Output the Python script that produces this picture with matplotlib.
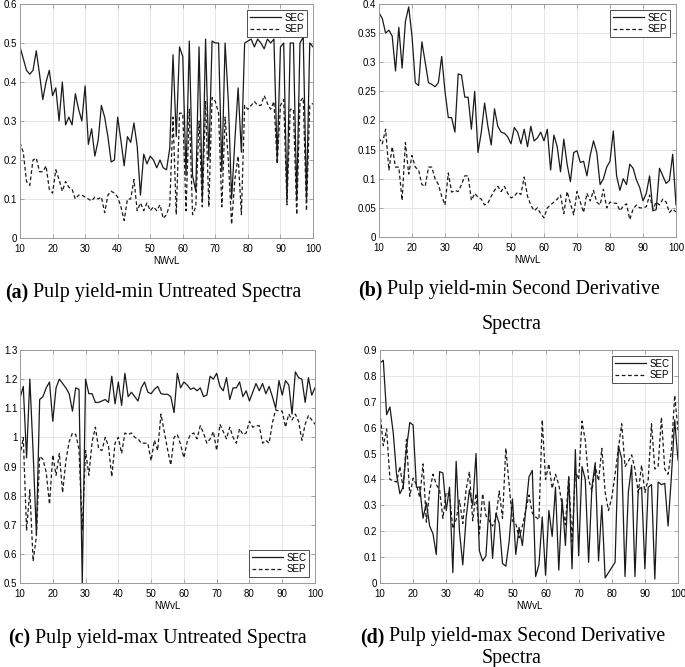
import matplotlib
matplotlib.use('Agg')
import matplotlib.pyplot as plt
from matplotlib.ticker import FormatStrFormatter, MultipleLocator

nwvl = list(range(10, 101))

# (a) pulp yield-min, untreated spectra
sec_a = [0.49, 0.46, 0.43, 0.42, 0.43, 0.48, 0.42, 0.355, 0.40, 0.43,
         0.365, 0.385, 0.30, 0.40, 0.29, 0.31, 0.29, 0.37, 0.33, 0.30,
         0.39, 0.24, 0.28, 0.21, 0.25, 0.34, 0.31, 0.26, 0.195, 0.20,
         0.31, 0.25, 0.185, 0.26, 0.245, 0.295, 0.235, 0.11, 0.215, 0.19,
         0.21, 0.20, 0.18, 0.20, 0.18, 0.175, 0.23, 0.47, 0.26, 0.49,
         0.465, 0.16, 0.505, 0.16, 0.12, 0.49, 0.10, 0.51, 0.20, 0.505,
         0.50, 0.50, 0.17, 0.50, 0.35, 0.10, 0.25, 0.385, 0.22, 0.50,
         0.505, 0.51, 0.49, 0.51, 0.50, 0.485, 0.51, 0.50, 0.51, 0.20,
         0.49, 0.50, 0.10, 0.50, 0.50, 0.10, 0.50, 0.515, 0.10, 0.50,
         0.49]
sep_a = [0.245, 0.22, 0.145, 0.135, 0.20, 0.205, 0.17, 0.17, 0.185, 0.125,
         0.115, 0.175, 0.15, 0.12, 0.145, 0.13, 0.125, 0.10, 0.11, 0.11,
         0.105, 0.10, 0.095, 0.105, 0.10, 0.105, 0.065, 0.11, 0.12, 0.115,
         0.105, 0.08, 0.045, 0.10, 0.10, 0.15, 0.07, 0.09, 0.07, 0.09,
         0.07, 0.08, 0.07, 0.085, 0.05, 0.06, 0.085, 0.31, 0.06, 0.32,
         0.32, 0.07, 0.33, 0.06, 0.08, 0.30, 0.08, 0.35, 0.08, 0.36,
         0.35, 0.32, 0.08, 0.31, 0.20, 0.035, 0.15, 0.21, 0.06, 0.34,
         0.33, 0.34, 0.35, 0.34, 0.34, 0.365, 0.345, 0.33, 0.35, 0.19,
         0.34, 0.355, 0.085, 0.33, 0.33, 0.06, 0.35, 0.36, 0.07, 0.34,
         0.345]

# (b) pulp yield-min, second derivative spectra
sec_b = [0.385, 0.375, 0.35, 0.355, 0.345, 0.285, 0.36, 0.29, 0.37, 0.395,
         0.345, 0.265, 0.26, 0.335, 0.30, 0.265, 0.262, 0.258, 0.265, 0.31,
         0.25, 0.205, 0.205, 0.18, 0.28, 0.278, 0.24, 0.24, 0.185, 0.25,
         0.145, 0.18, 0.23, 0.19, 0.158, 0.22, 0.19, 0.18, 0.178, 0.172,
         0.16, 0.188, 0.18, 0.16, 0.185, 0.155, 0.19, 0.165, 0.17, 0.18,
         0.165, 0.185, 0.115, 0.175, 0.155, 0.112, 0.168, 0.125, 0.095, 0.145,
         0.148, 0.128, 0.13, 0.105, 0.14, 0.165, 0.145, 0.09, 0.10, 0.12,
         0.13, 0.182, 0.105, 0.08, 0.10, 0.09, 0.125, 0.118, 0.098, 0.085,
         0.062, 0.075, 0.105, 0.045, 0.047, 0.118, 0.105, 0.092, 0.097, 0.142,
         0.055]
sep_b = [0.17, 0.16, 0.185, 0.115, 0.155, 0.12, 0.12, 0.063, 0.162, 0.108,
         0.14, 0.12, 0.115, 0.09, 0.087, 0.12, 0.12, 0.10, 0.09, 0.07,
         0.055, 0.11, 0.077, 0.08, 0.078, 0.09, 0.105, 0.105, 0.063, 0.075,
         0.068, 0.065, 0.055, 0.058, 0.07, 0.08, 0.087, 0.078, 0.087, 0.075,
         0.067, 0.07, 0.077, 0.073, 0.103, 0.07, 0.055, 0.045, 0.05, 0.04,
         0.033, 0.05, 0.055, 0.06, 0.065, 0.072, 0.04, 0.078, 0.058, 0.038,
         0.078, 0.06, 0.042, 0.075, 0.062, 0.08, 0.06, 0.055, 0.082, 0.05,
         0.06, 0.058, 0.058, 0.045, 0.053, 0.057, 0.03, 0.048, 0.055, 0.05,
         0.05, 0.052, 0.072, 0.048, 0.06, 0.055, 0.065, 0.06, 0.042, 0.048,
         0.043]

# (c) pulp yield-max, untreated spectra
sec_c = [1.135, 1.175, 0.93, 1.20, 0.95, 0.665, 1.13, 1.14, 1.17, 1.19,
         1.055, 1.17, 1.20, 1.185, 1.17, 1.15, 1.09, 1.17, 1.165, 0.50,
         1.20, 1.15, 1.15, 1.12, 1.12, 1.125, 1.13, 1.12, 1.21, 1.115,
         1.19, 1.11, 1.22, 1.14, 1.155, 1.14, 1.125, 1.17, 1.19, 1.155,
         1.15, 1.165, 1.175, 1.15, 1.148, 1.148, 1.14, 1.085, 1.22, 1.17,
         1.19, 1.18, 1.165, 1.17, 1.16, 1.17, 1.14, 1.145, 1.21, 1.20,
         1.22, 1.175, 1.16, 1.205, 1.13, 1.17, 1.17, 1.19, 1.14, 1.16,
         1.125, 1.155, 1.185, 1.16, 1.185, 1.15, 1.175, 1.14, 1.10, 1.195,
         1.145, 1.195, 1.18, 1.08, 1.225, 1.205, 1.20, 1.12, 1.205, 1.145,
         1.17]
sep_c = [0.935, 1.00, 0.68, 0.82, 0.575, 0.66, 0.935, 0.925, 0.88, 0.77,
         0.94, 0.87, 0.945, 0.81, 0.92, 0.985, 1.015, 1.01, 0.96, 0.68,
         0.955, 0.87, 0.985, 1.035, 0.96, 0.955, 1.00, 0.97, 0.865, 0.98,
         1.00, 0.945, 1.015, 1.01, 1.015, 1.00, 0.995, 0.98, 0.98, 0.98,
         0.92, 0.99, 0.955, 1.08, 1.02, 0.96, 0.905, 1.00, 1.01, 0.975,
         0.93, 0.985, 1.01, 1.015, 0.995, 1.04, 1.015, 0.98, 0.995, 1.02,
         0.955, 1.045, 1.02, 0.995, 1.035, 1.00, 0.98, 1.03, 1.01, 1.015,
         1.055, 1.035, 1.04, 1.04, 0.98, 0.99, 0.98, 1.05, 1.095, 1.09,
         1.09, 1.035, 1.08, 1.06, 1.08, 1.055, 0.99, 1.045, 1.075, 1.06,
         1.045]

# (d) pulp yield-max, second derivative spectra
sec_d = [0.85, 0.86, 0.65, 0.68, 0.58, 0.42, 0.345, 0.37, 0.52, 0.62,
         0.61, 0.37, 0.37, 0.25, 0.31, 0.22, 0.19, 0.11, 0.43, 0.425,
         0.28, 0.37, 0.04, 0.47, 0.20, 0.07, 0.25, 0.36, 0.30, 0.50,
         0.125, 0.085, 0.105, 0.315, 0.095, 0.27, 0.23, 0.075, 0.065, 0.16,
         0.325, 0.11, 0.215, 0.145, 0.28, 0.41, 0.435, 0.025, 0.07, 0.255,
         0.03, 0.28, 0.18, 0.37, 0.05, 0.325, 0.145, 0.41, 0.055, 0.515,
         0.105, 0.45, 0.40, 0.08, 0.37, 0.465, 0.085, 0.30, 0.02, 0.04,
         0.06, 0.08, 0.53, 0.48, 0.025, 0.35, 0.455, 0.025, 0.36, 0.37,
         0.055, 0.37, 0.38, 0.015, 0.39, 0.38, 0.385, 0.22, 0.41, 0.63,
         0.475]
sep_d = [0.66, 0.53, 0.595, 0.40, 0.395, 0.39, 0.45, 0.365, 0.555, 0.335,
         0.405, 0.38, 0.33, 0.46, 0.235, 0.355, 0.42, 0.38, 0.36, 0.25,
         0.35, 0.34, 0.21, 0.245, 0.32, 0.23, 0.36, 0.43, 0.24, 0.345,
         0.19, 0.345, 0.26, 0.24, 0.22, 0.25, 0.355, 0.25, 0.52, 0.38,
         0.24, 0.23, 0.175, 0.22, 0.28, 0.34, 0.27, 0.255, 0.245, 0.63,
         0.40, 0.46, 0.365, 0.42, 0.38, 0.30, 0.225, 0.41, 0.16, 0.43,
         0.40, 0.625, 0.55, 0.40, 0.355, 0.45, 0.395, 0.52, 0.35, 0.28,
         0.33, 0.42, 0.52, 0.615, 0.45, 0.47, 0.495, 0.44, 0.35, 0.455,
         0.35, 0.40, 0.615, 0.44, 0.45, 0.64, 0.44, 0.42, 0.51, 0.725,
         0.59]

W, H = 685, 667
fig = plt.figure(figsize=(W / 100, H / 100), dpi=100)

def px_axes(left, top, right, bottom):
    return fig.add_axes([left / W, 1 - bottom / H, (right - left) / W, (bottom - top) / H])

panels = [
    (px_axes(20, 4, 313, 238), sec_a, sep_a, (0, 0.6), 0.1, 'upper right'),
    (px_axes(379, 4, 676, 237), sec_b, sep_b, (0, 0.4), 0.05, 'upper right'),
    (px_axes(20, 350, 315, 583), sec_c, sep_c, (0.5, 1.3), 0.1, 'lower right'),
    (px_axes(380, 350, 678, 583), sec_d, sep_d, (0, 0.9), 0.1, 'upper right'),
]

for ax, sec, sep, ylim, ystep, loc in panels:
    ax.plot(nwvl, sec, color='#1a1a1a', lw=0.9, label='SEC')
    ax.plot(nwvl, sep, color='#1a1a1a', lw=0.9, dashes=(3, 2), label='SEP')
    ax.set_xlim(10, 100)
    ax.set_ylim(*ylim)
    ax.xaxis.set_major_locator(MultipleLocator(10))
    ax.yaxis.set_major_locator(MultipleLocator(ystep))
    ax.yaxis.set_major_formatter(FormatStrFormatter('%g'))
    ax.grid(True, color='#e6e6e6', lw=0.7)
    ax.set_axisbelow(True)
    for s in ax.spines.values():
        s.set_color('#999999')
        s.set_linewidth(0.7)
    ax.tick_params(direction='in', length=3, width=0.6, color='#999999',
                   labelsize=7, top=True, right=True)
    ax.tick_params(axis='x', pad=4)
    ax.tick_params(axis='y', pad=2)
    for lab in ax.get_xticklabels() + ax.get_yticklabels():
        lab.set_fontfamily('Liberation Sans')
    ax.set_xlabel('NWvL', fontsize=7, family='Liberation Sans', labelpad=2)
    leg = ax.legend(loc=loc, prop={'family': 'Liberation Sans', 'size': 7},
                    handlelength=3.2, handletextpad=0.3, borderpad=0.3,
                    labelspacing=0.15, fancybox=False, framealpha=1, borderaxespad=0.6)
    leg.get_frame().set_edgecolor('#333333')
    leg.get_frame().set_linewidth(0.6)

def caption(xpx, ypx, tag, rest):
    t = fig.text(xpx / W, 1 - ypx / H, tag, family='Liberation Serif', weight='bold',
                 fontsize=14.4, va='center', ha='left')
    plt.annotate(' ' + rest, xy=(1, 0.5), xycoords=t, va='center', ha='left',
                 family='Liberation Serif', fontsize=14.4)

caption(5, 293, '(a)', 'Pulp yield-min Untreated Spectra')
caption(358, 290, '(b)', 'Pulp yield-min Second Derivative')
fig.text(512 / W, 1 - 324 / H, 'Spectra', family='Liberation Serif', fontsize=14.4,
         va='center', ha='center')
caption(8, 638, '(c)', 'Pulp yield-max Untreated Spectra')
caption(360, 637, '(d)', 'Pulp yield-max Second Derivative')
fig.text(512 / W, 1 - 659 / H, 'Spectra', family='Liberation Serif', fontsize=14.4,
         va='center', ha='center')

fig.savefig('out.png', dpi=100)
